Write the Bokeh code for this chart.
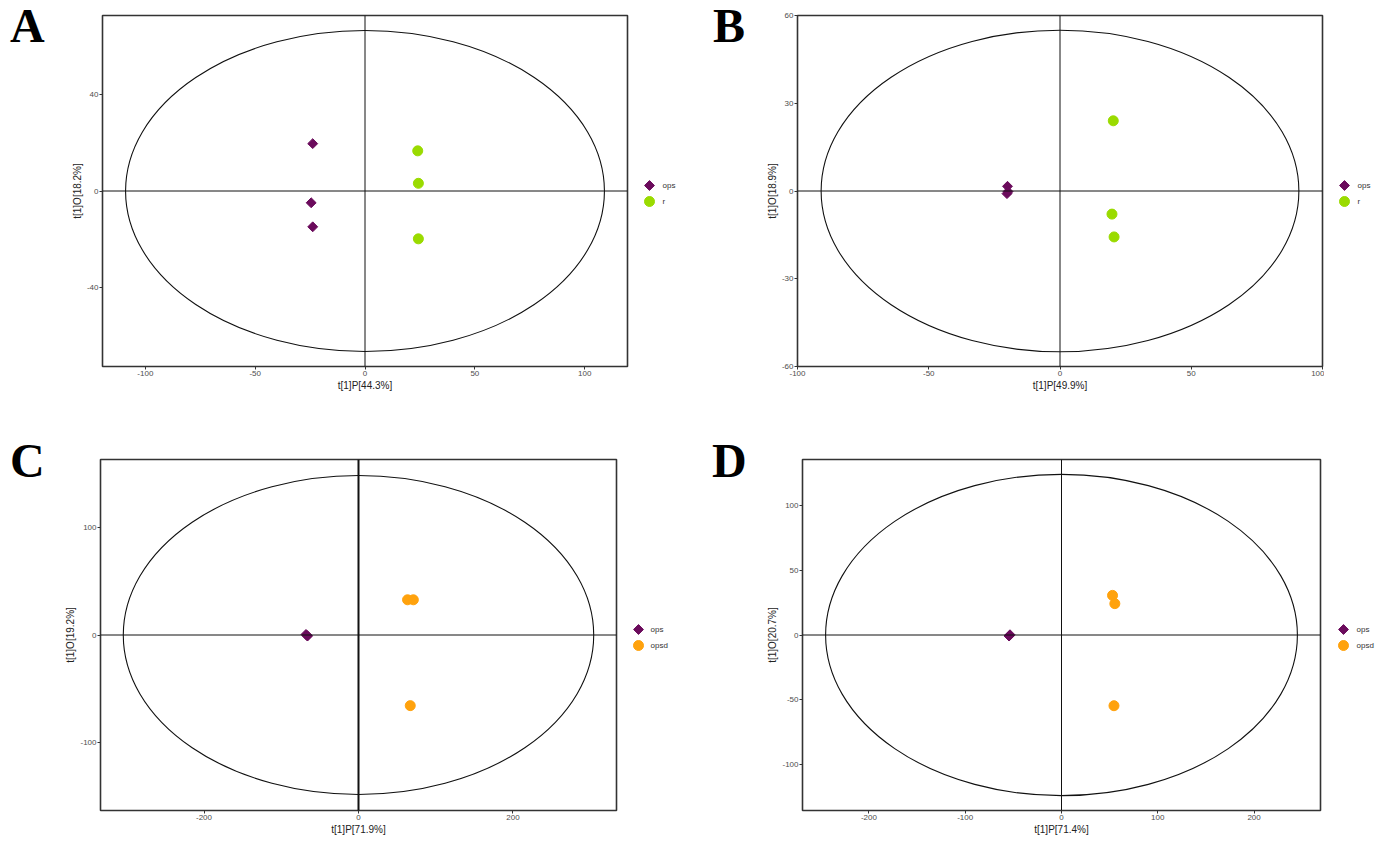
import numpy as np
from bokeh.plotting import figure
from bokeh.layouts import column, row
from bokeh.models import Span, FixedTicker, Range1d, Div
from bokeh.core.properties import value
from bokeh.embed import file_html
from bokeh.resources import INLINE

# ---------------- data ----------------
# Panel A: ops vs r
A_ops_x = [-23.8, -24.5, -23.8]
A_ops_y = [19.7, -4.9, -14.9]
A_r_x = [24.0, 24.3, 24.3]
A_r_y = [16.7, 3.2, -19.9]
A_ellipse = (109.0, 66.8)
A_xticks = [-100, -50, 0, 50, 100]
A_yticks = [-40, 0, 40]
A_xlabel = "t[1]P[44.3%]"
A_ylabel = "t[1]O[18.2%]"
A_groups = ["ops", "r"]

# Panel B: ops vs r
B_ops_x = [-20.0, -20.2, -19.8]
B_ops_y = [1.6, -0.9, -0.2]
B_r_x = [20.3, 19.8, 20.6]
B_r_y = [24.0, -7.9, -15.7]
B_ellipse = (91.0, 55.0)
B_xticks = [-100, -50, 0, 50, 100]
B_yticks = [-60, -30, 0, 30, 60]
B_xlabel = "t[1]P[49.9%]"
B_ylabel = "t[1]O[18.9%]"
B_groups = ["ops", "r"]

# Panel C: ops vs opsd
C_ops_x = [-68.0, -66.5, -66.0]
C_ops_y = [0.5, -0.5, -1.0]
C_opsd_x = [63.5, 71.0, 67.0]
C_opsd_y = [32.9, 32.9, -66.0]
C_ellipse = (304.5, 149.0)
C_xticks = [-200, 0, 200]
C_yticks = [-100, 0, 100]
C_xlabel = "t[1]P[71.9%]"
C_ylabel = "t[1]O[19.2%]"
C_groups = ["ops", "opsd"]

# Panel D: ops vs opsd
D_ops_x = [-54.0, -53.5, -54.5]
D_ops_y = [-0.5, 0.2, -0.8]
D_opsd_x = [53.0, 55.4, 54.5]
D_opsd_y = [30.7, 24.3, -54.8]
D_ellipse = (245.0, 124.5)
D_xticks = [-200, -100, 0, 100, 200]
D_yticks = [-100, -50, 0, 50, 100]
D_xlabel = "t[1]P[71.4%]"
D_ylabel = "t[1]O[20.7%]"
D_groups = ["ops", "opsd"]

PURPLE = "#6B0B5C"
GREEN = "#9ADB00"
ORANGE = "#FFA20D"
FONT = "Liberation Sans"
DIAMOND_SIZE = 7
CIRCLE_SIZE = 10


def letter_div(letter, width, pad_left, pad_top):
    html = ('<div style="font-family:\'Liberation Serif\',serif;font-weight:bold;'
            'font-size:48px;line-height:48px;margin:0;padding:%dpx 0 0 %dpx;color:#000;">%s</div>'
            % (pad_top, pad_left, letter))
    return Div(text=html, width=width, height=pad_top + 50, margin=0)


def legend_fig(width, height, frame_px, groups, colors, glyph_x, top_y, text_x):
    """Key beside a panel. Its frame is aligned with the panel frame by the row,
    so its ranges are given in page pixels of that frame."""
    p = figure(width=width, height=height, output_backend="svg", toolbar_location=None,
               x_range=Range1d(0, width), y_range=Range1d(frame_px[1], frame_px[0]),
               x_axis_location=None, y_axis_location=None,
               min_border=0, margin=0)
    p.grid.visible = False
    p.outline_line_color = None
    p.background_fill_color = "white"
    p.border_fill_color = "white"
    ys = [top_y, top_y + 16]
    p.scatter([glyph_x], [ys[0]], marker="square", angle=np.pi / 4, size=DIAMOND_SIZE,
              fill_color=colors[0], line_color=colors[0])
    p.scatter([glyph_x], [ys[1]], marker="circle", size=CIRCLE_SIZE,
              fill_color=colors[1], line_color=colors[1])
    p.text(x=[text_x, text_x], y=ys, text=groups, text_font=value(FONT),
           text_font_size="8px", text_color="#333333", text_baseline="middle",
           text_align="left")
    return p


def panel(width, height, borders, xr, yr, xticks, yticks, xlabel, ylabel,
          ops, other, other_color, ell, vline_w=1):
    bl, br, bt, bb = borders
    p = figure(width=width, height=height, output_backend="svg", toolbar_location=None,
               x_range=Range1d(*xr), y_range=Range1d(*yr),
               min_border_left=bl, min_border_right=br, min_border_top=bt,
               min_border_bottom=bb, margin=0)
    p.grid.visible = False
    p.outline_line_color = "#333333"
    p.outline_line_width = 1.6
    p.background_fill_color = "white"
    p.border_fill_color = "white"
    for ax, ticks, lab in ((p.xaxis[0], xticks, xlabel), (p.yaxis[0], yticks, ylabel)):
        ax.ticker = FixedTicker(ticks=ticks)
        ax.major_label_overrides = {t: str(t) for t in ticks}
        ax.axis_line_color = None
        ax.major_tick_line_color = "#333333"
        ax.major_tick_in = 0
        ax.major_tick_out = 3
        ax.minor_tick_line_color = None
        ax.major_label_text_font = FONT
        ax.major_label_text_font_size = "8px"
        ax.major_label_text_color = "#4D4D4D"
        ax.major_label_standoff = 1
        ax.axis_label = lab
        ax.axis_label_text_font = FONT
        ax.axis_label_text_font_size = "10px"
        ax.axis_label_text_font_style = "normal"
        ax.axis_label_text_color = "#222222"
        ax.axis_label_standoff = 1
    p.add_layout(Span(location=0, dimension="height", line_color="#111111", line_width=vline_w))
    p.add_layout(Span(location=0, dimension="width", line_color="#111111", line_width=1))
    p.ellipse(x=[0], y=[0], width=[2 * ell[0]], height=[2 * ell[1]],
              fill_color=None, line_color="#111111", line_width=1.1)
    p.scatter(ops[0], ops[1], marker="square", angle=np.pi / 4, size=DIAMOND_SIZE,
              fill_color=PURPLE, line_color=PURPLE)
    p.scatter(other[0], other[1], marker="circle", size=CIRCLE_SIZE,
              fill_color=other_color, line_color=other_color)
    return p


# top row: height 400, frames at page y 15..366
TOP_FRAME = (15, 366)
pA = panel(579, 400, (52, 2, 15, 34), (-119.5, 119.5), (-73, 73), A_xticks, A_yticks,
           A_xlabel, A_ylabel, (A_ops_x, A_ops_y), (A_r_x, A_r_y), GREEN, A_ellipse)
lA = legend_fig(76, 400, TOP_FRAME, A_groups, (PURPLE, GREEN), 20, 185, 33)
pB = panel(579, 400, (52, 2, 15, 34), (-100, 100), (-60, 60), B_xticks, B_yticks,
           B_xlabel, B_ylabel, (B_ops_x, B_ops_y), (B_r_x, B_r_y), GREEN, B_ellipse)
lB = legend_fig(60, 400, TOP_FRAME, B_groups, (PURPLE, GREEN), 20, 185, 33)
# bottom row: starts page y 400, frames at page y 459..810
BOT_FRAME = (459, 810)
pC = panel(568, 438, (50, 2, 59, 28), (-334, 334), (-164, 164), C_xticks, C_yticks,
           C_xlabel, C_ylabel, (C_ops_x, C_ops_y), (C_opsd_x, C_opsd_y), ORANGE,
           C_ellipse, vline_w=2)
lC = legend_fig(87, 438, BOT_FRAME, C_groups, (PURPLE, ORANGE), 20, 629, 32)
pD = panel(577, 438, (57, 2, 59, 28), (-269, 269), (-136, 136), D_xticks, D_yticks,
           D_xlabel, D_ylabel, (D_ops_x, D_ops_y), (D_opsd_x, D_opsd_y), ORANGE,
           D_ellipse)
lD = legend_fig(62, 438, BOT_FRAME, D_groups, (PURPLE, ORANGE), 21, 629, 34)

top = row(letter_div("A", 50, 10, 2), pA, lA, letter_div("B", 40, 8, 2), pB, lB, spacing=0)
bottom = row(letter_div("C", 50, 10, 37), pC, lC, letter_div("D", 40, 7, 37), pD, lD,
             spacing=0)
layout = column(top, bottom, spacing=0)
open("out.html", "w").write(file_html(layout, INLINE))
